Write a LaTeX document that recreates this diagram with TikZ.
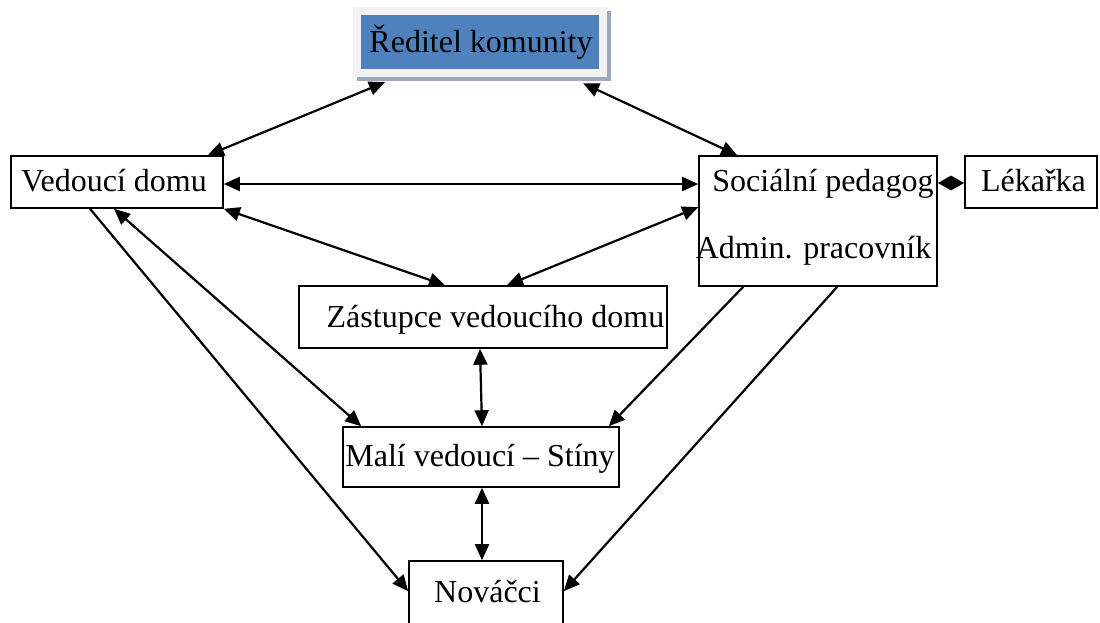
\documentclass[tikz,border=0pt]{standalone}
\usepackage{fontspec}
\setmainfont{Liberation Serif}
\usetikzlibrary{arrows.meta,calc}
\definecolor{dirblue}{HTML}{4F81BD}
\definecolor{dirframe}{HTML}{F2F2F2}
\definecolor{dirshadow}{HTML}{9DA9BB}
\begin{document}
\begin{tikzpicture}[x=1pt,y=-1pt,
  box/.style={draw,line width=1.6pt,inner sep=0pt,rectangle},
  lbl/.style={inner sep=0pt,font=\fontsize{32}{37}\selectfont,text height=22.3pt,text depth=6.4pt},
  link/.style={line width=2.2pt,{Triangle[length=16pt,width=14pt]}-{Triangle[length=16pt,width=14pt]}},
  one/.style={line width=2.2pt,-{Triangle[length=16pt,width=14pt]}}]
\useasboundingbox (0,0) rectangle (1100,622);
% director
\node[fill=dirshadow,inner sep=0pt,minimum width=254pt,minimum height=70pt] (dsh) at (483.5,45.5) {};
\node[fill=dirframe,inner sep=0pt,minimum width=254pt,minimum height=70pt] (dfr) at (480,42) {};
\node[fill=dirblue,inner sep=0pt,minimum width=238pt,minimum height=54pt] (dir) at (480,42) {};
\node[lbl] (dirt) at (481,45) {Ředitel komunity};
% boxes
\node[box,minimum width=212pt,minimum height=52pt] (vd) at (117,182) {};
\node[lbl] (vdt) at (114,184) {Vedoucí domu};
\node[box,minimum width=238pt,minimum height=130pt] (sp) at (818,221) {};
\node[lbl] (spt) at (823,184) {Sociální pedagog};
\node[lbl] (apt) at (813.5,251) {Admin. pracovník};
\node[box,minimum width=132pt,minimum height=52pt] (lek) at (1031,182) {};
\node[lbl] (lekt) at (1033.5,184) {Lékařka};
\node[box,minimum width=368pt,minimum height=62pt] (zas) at (483,317) {};
\node[lbl] (zast) at (495.5,320) {Zástupce vedoucího domu};
\node[box,minimum width=276pt,minimum height=60pt] (mal) at (481,457) {};
\node[lbl] (malt) at (480,459) {Malí vedoucí – Stíny};
\node[box,minimum width=154pt,minimum height=79pt] (nov) at (486,600.5) {};
\node[lbl] (novt) at (487.5,595) {Nováčci};
% connectors
\draw[link] ($(vd.north east)+(-16,0)$) -- ($(dfr.south)+(-95,5)$);
\draw[link] ($(dfr.south)+(103,6)$) -- ($(sp.north west)+(39,0)$);
\draw[link] ($(vd.east)+(0,2)$) -- ($(sp.west)+(0,-37)$);
\draw[link] (vd.south east) -- ($(zas.north)+(-38,0)$);
\draw[link] ($(sp.north west)+(0,52)$) -- ($(zas.north)+(24,0)$);
\draw[link] ($(zas.south)+(-3,0)$) -- ($(mal.north)+(1,0)$);
\draw[link] ($(mal.south)+(1,0)$) -- ($(nov.north)+(-4,0)$);
\draw[one] ($(vd.south)+(-27,0)$) -- ($(nov.north west)+(0,31)$);
\draw[link] ($(vd.south)+(-3,0)$) -- ($(mal.north west)+(19,0)$);
\draw[one] ($(sp.south west)+(45,0)$) -- ($(mal.north east)+(-11,0)$);
\draw[one] ($(sp.south west)+(139,0)$) -- ($(nov.north east)+(0,31)$);
\draw[line width=2.2pt,{Triangle[length=13pt,width=14pt]}-{Triangle[length=13pt,width=14pt]}] ($(sp.east)+(0,-38)$) -- ($(lek.west)+(0,1)$);
\end{tikzpicture}
\end{document}
